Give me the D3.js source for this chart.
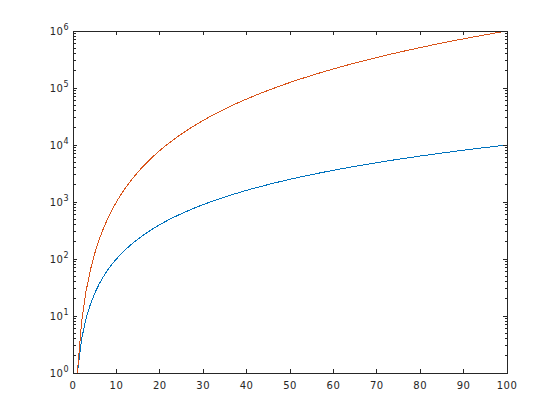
<!DOCTYPE html>
<html><head><meta charset="utf-8">
<script src="https://cdn.jsdelivr.net/npm/d3@7"></script>
<style>body{margin:0;background:#fff}svg{display:block}text{font-family:"DejaVu Sans",sans-serif;fill:#262626}</style>
</head><body><svg id="c" width="560" height="420"></svg>
<script>
const xValues = [1,2,3,4,5,6,7,8,9,10,11,12,13,14,15,16,17,18,19,20,21,22,23,24,25,26,27,28,29,30,31,32,33,34,35,36,37,38,39,40,41,42,43,44,45,46,47,48,49,50,51,52,53,54,55,56,57,58,59,60,61,62,63,64,65,66,67,68,69,70,71,72,73,74,75,76,77,78,79,80,81,82,83,84,85,86,87,88,89,90,91,92,93,94,95,96,97,98,99,100];
const blueValues = [1,4,9,16,25,36,49,64,81,100,121,144,169,196,225,256,289,324,361,400,441,484,529,576,625,676,729,784,841,900,961,1024,1089,1156,1225,1296,1369,1444,1521,1600,1681,1764,1849,1936,2025,2116,2209,2304,2401,2500,2601,2704,2809,2916,3025,3136,3249,3364,3481,3600,3721,3844,3969,4096,4225,4356,4489,4624,4761,4900,5041,5184,5329,5476,5625,5776,5929,6084,6241,6400,6561,6724,6889,7056,7225,7396,7569,7744,7921,8100,8281,8464,8649,8836,9025,9216,9409,9604,9801,10000];
const orangeValues = [1,8,27,64,125,216,343,512,729,1000,1331,1728,2197,2744,3375,4096,4913,5832,6859,8000,9261,10648,12167,13824,15625,17576,19683,21952,24389,27000,29791,32768,35937,39304,42875,46656,50653,54872,59319,64000,68921,74088,79507,85184,91125,97336,103823,110592,117649,125000,132651,140608,148877,157464,166375,175616,185193,195112,205379,216000,226981,238328,250047,262144,274625,287496,300763,314432,328509,343000,357911,373248,389017,405224,421875,438976,456533,474552,493039,512000,531441,551368,571787,592704,614125,636056,658503,681472,704969,729000,753571,778688,804357,830584,857375,884736,912673,941192,970299,1000000];
const xTicks = [0,10,20,30,40,50,60,70,80,90,100];
const yTickExps = [0,1,2,3,4,5,6];

const L=73, R=507, T=31, B=373;
const svg = d3.select("#c");
const x = d3.scaleLinear().domain([0,100]).range([L,R]);
const y = d3.scaleLog().domain([1,1e6]).range([B,T]);

const line = d3.line().x((d,i)=>x(xValues[i])).y(d=>y(d));
const series = [{v:blueValues,c:"#0072BD"},{v:orangeValues,c:"#D95319"}];
series.forEach(s=>{
  svg.append("path").attr("d",line(s.v)).attr("fill","none").attr("stroke",s.c).attr("stroke-width",1).attr("shape-rendering","crispEdges");
});

const ax = svg.append("g").attr("stroke","#262626").attr("stroke-width",1).attr("shape-rendering","crispEdges");
ax.append("rect").attr("x",L).attr("y",T).attr("width",R-L).attr("height",B-T).attr("fill","none");
xTicks.forEach(t=>{
  ax.append("line").attr("x1",x(t)).attr("x2",x(t)).attr("y1",B).attr("y2",B-4);
  ax.append("line").attr("x1",x(t)).attr("x2",x(t)).attr("y1",T).attr("y2",T+4);
  svg.append("text").attr("x",x(t)).attr("y",B+16).attr("text-anchor","middle").attr("font-size",10).attr("letter-spacing",0.5).text(t);
});
yTickExps.forEach(e=>{
  const v = Math.pow(10,e);
  ax.append("line").attr("x1",L).attr("x2",L+4).attr("y1",y(v)).attr("y2",y(v));
  ax.append("line").attr("x1",R).attr("x2",R-4).attr("y1",y(v)).attr("y2",y(v));
  if(e<6){
    for(let m=2;m<=9;m++){
      const mv=m*v;
      ax.append("line").attr("x1",L).attr("x2",L+2.5).attr("y1",y(mv)).attr("y2",y(mv));
      ax.append("line").attr("x1",R).attr("x2",R-2.5).attr("y1",y(mv)).attr("y2",y(mv));
    }
  }
  const tx = svg.append("text").attr("x",L-4).attr("y",y(v)+4).attr("text-anchor","end").attr("font-size",10).attr("letter-spacing",0.5);
  tx.append("tspan").text("10");
  tx.append("tspan").attr("dy",-5).attr("font-size",8).text(e);
});
</script></body></html>
